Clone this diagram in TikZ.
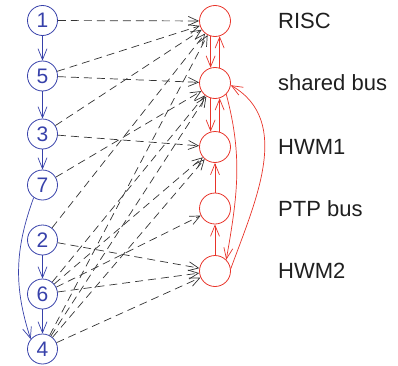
\documentclass[tikz,border=0pt]{standalone}
\usepackage{fontspec}
\setmainfont{Liberation Sans}
\usetikzlibrary{arrows.meta}
\definecolor{tblue}{RGB}{55,65,170}
\definecolor{tred}{RGB}{232,52,42}
\begin{document}
\begin{tikzpicture}[x=1pt,y=1pt,
  task/.style={circle,draw=tblue,line width=0.8pt,minimum size=30pt,inner sep=0pt,text=tblue,font=\fontsize{21}{21}\selectfont},
  res/.style={circle,draw=tred,line width=0.8pt,minimum size=31pt,inner sep=0pt},
  lbl/.style={anchor=west,inner sep=0pt,text=black!88,font=\fontsize{22}{22}\selectfont},
  parrow/.style={draw=tblue,line width=0.7pt,-{Straight Barb[length=11pt,width=9pt]}},
  rarrow/.style={draw=tred,line width=0.7pt,-{Straight Barb[length=11pt,width=9pt]}},
  maparrow/.style={draw=black!80,line width=0.7pt,dash pattern=on 8pt off 5pt,-{Straight Barb[length=10pt,width=9pt]}}]
\useasboundingbox (0,0) rectangle (398,365);
% problem graph
\node[task] (t1) at (42.5,344.5) {1};
\node[task] (t5) at (42.5,289) {5};
\node[task] (t3) at (42.5,231) {3};
\node[task] (t7) at (42.5,180) {7};
\node[task] (t2) at (42.5,125) {2};
\node[task] (t6) at (42.5,71) {6};
\node[task] (t4) at (42.5,16) {4};
% architecture graph
\node[res] (risc) at (215,344) {};
\node[res] (sb) at (215,282) {};
\node[res] (hwm1) at (215,218) {};
\node[res] (ptp) at (215,156.5) {};
\node[res] (hwm2) at (215,94) {};
% labels
\node[lbl] (lrisc) at (278,344) {RISC};
\node[lbl] (lsb) at (278,282) {shared bus};
\node[lbl] (lhwm1) at (278,218) {HWM1};
\node[lbl] (lptp) at (278,156.5) {PTP bus};
\node[lbl] (lhwm2) at (278,94) {HWM2};
% problem graph edges
\draw[parrow] (t1) -- (t5);
\draw[parrow] (t5) -- (t3);
\draw[parrow] (t3) -- (t7);
\draw[parrow] (t2) -- (t6);
\draw[parrow] (t6) -- (t4);
\draw[parrow] (t7.235) to[out=250,in=108] (t4.140);
% architecture edges
\draw[rarrow] (risc.254) -- (sb.106);
\draw[rarrow] (sb.73) -- (risc.-73);
\draw[rarrow] (sb.254) -- (hwm1.106);
\draw[rarrow] (hwm1.73) -- (sb.-73);
\draw[rarrow] (ptp) -- (hwm1);
\draw[rarrow] (hwm2) -- (ptp);
\draw[rarrow] (sb.-45) to[out=-75,in=80] (hwm2.45);
\draw[rarrow] (hwm2.8) to[out=70,in=-30] (sb.-8);
% mapping edges
\draw[maparrow] (t1) -- (risc);
\draw[maparrow] (t5) -- (risc);
\draw[maparrow] (t5) -- (sb);
\draw[maparrow] (t3) -- (risc);
\draw[maparrow] (t3) -- (hwm1);
\draw[maparrow] (t7) -- (sb);
\draw[maparrow] (t2) -- (risc);
\draw[maparrow] (t2) -- (hwm2);
\draw[maparrow] (t6) -- (sb);
\draw[maparrow] (t6) -- (hwm1);
\draw[maparrow] (t6) -- (ptp);
\draw[maparrow] (t6) -- (hwm2);
\draw[maparrow] (t4) -- (risc);
\draw[maparrow] (t4) -- (sb);
\draw[maparrow] (t4) -- (hwm1);
\draw[maparrow] (t4) -- (hwm2);
\end{tikzpicture}
\end{document}
